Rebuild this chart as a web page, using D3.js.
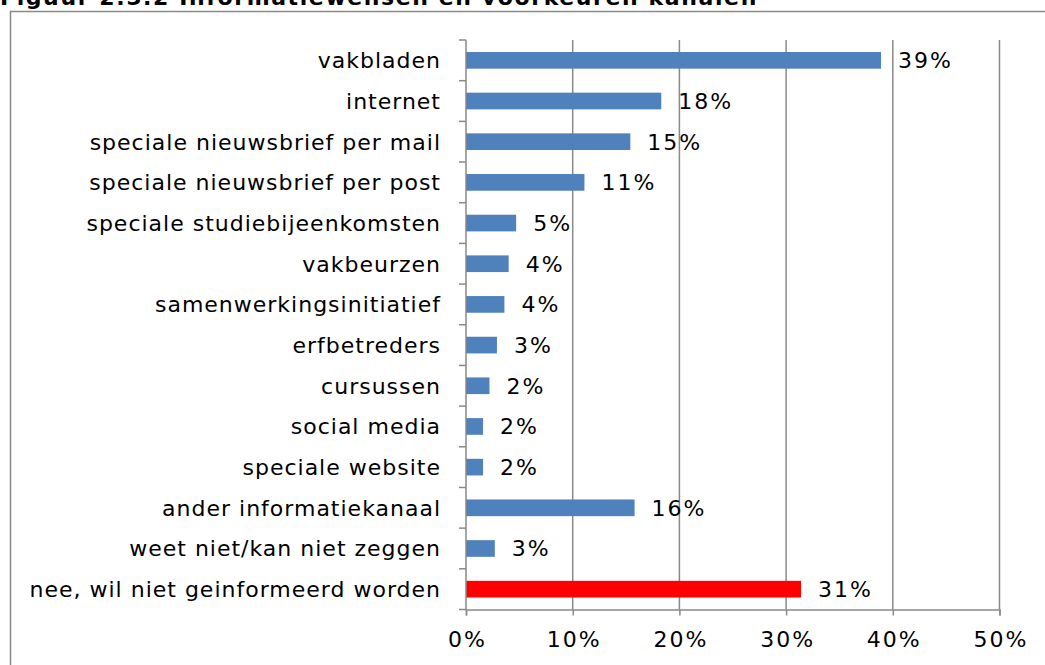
<!DOCTYPE html>
<html><head><meta charset="utf-8">
<script src="https://cdn.jsdelivr.net/npm/d3@7"></script>
<style>body{margin:0;background:#fff}svg{display:block}</style>
</head><body>
<svg id="c" width="1045" height="665"></svg>
<script>
const title = "Figuur 2.5.2 Informatiewensen en voorkeuren kanalen";
const categories = ["vakbladen","internet","speciale nieuwsbrief per mail","speciale nieuwsbrief per post","speciale studiebijeenkomsten","vakbeurzen","samenwerkingsinitiatief","erfbetreders","cursussen","social media","speciale website","ander informatiekanaal","weet niet/kan niet zeggen","nee, wil niet geinformeerd worden"];
const values = [38.9,18.3,15.4,11.1,4.7,4.0,3.6,2.9,2.2,1.6,1.6,15.8,2.7,31.4];
const labels = ["39%","18%","15%","11%","5%","4%","4%","3%","2%","2%","2%","16%","3%","31%"];
const xTicks = [0,10,20,30,40,50];
const colors = ["#4F81BD","#4F81BD","#4F81BD","#4F81BD","#4F81BD","#4F81BD","#4F81BD","#4F81BD","#4F81BD","#4F81BD","#4F81BD","#4F81BD","#4F81BD","#FF0000"];

const svg = d3.select("#c");
const font = "'DejaVu Sans', Verdana, sans-serif";
const grey = "#898989";
const plotTop = 40, plotBottom = 609.5;

// frame
svg.append("path").attr("d","M10.5,1000 V11.5 H1100").attr("fill","none").attr("stroke",grey).attr("stroke-width",1.5);
svg.append("text").attr("x",0).attr("y",5).attr("font-family",font).attr("font-weight","bold")
  .attr("font-size",22).attr("letter-spacing","1.6px").attr("fill","#000").text(title);

const x = d3.scaleLinear().domain([0,50]).range([466,999.5]);
const y = d3.scaleBand().domain(categories).range([plotTop,plotBottom]).paddingInner(0.59).paddingOuter(0.295);

// gridlines
svg.append("g").selectAll("line").data(xTicks.slice(1)).join("line")
  .attr("x1",d=>x(d)).attr("x2",d=>x(d)).attr("y1",plotTop).attr("y2",plotBottom)
  .attr("stroke",grey).attr("stroke-width",1.5);

// bars
svg.append("g").selectAll("rect").data(values).join("rect")
  .attr("x",x(0)).attr("y",(d,i)=>y(categories[i]))
  .attr("width",d=>x(d)-x(0)).attr("height",y.bandwidth())
  .attr("fill",(d,i)=>colors[i]);

// value labels
svg.append("g").selectAll("text").data(values).join("text")
  .attr("x",d=>x(d)+17).attr("y",(d,i)=>y(categories[i])+y.bandwidth()/2)
  .attr("dy","0.36em").attr("font-family",font).attr("font-size",22).attr("letter-spacing","2px").attr("fill","#000")
  .text((d,i)=>labels[i]);

// x axis
const xa = svg.append("g").attr("transform",`translate(0,${plotBottom})`)
  .call(d3.axisBottom(x).tickValues(xTicks).tickFormat(d=>d+"%").tickSize(6).tickPadding(16));
xa.select(".domain").attr("stroke",grey).attr("stroke-width",1.5);
xa.selectAll(".tick line").attr("stroke",grey).attr("stroke-width",1.5);
xa.selectAll("text").attr("font-family",font).attr("font-size",22).attr("letter-spacing","2px").attr("dx","1px").attr("fill","#000");

// y axis
const n = categories.length;
const boundaries = d3.range(n+1).map(i=>plotTop+i*((plotBottom-plotTop)/n));
svg.append("line").attr("x1",466).attr("x2",466).attr("y1",plotTop).attr("y2",plotBottom).attr("stroke",grey).attr("stroke-width",1.5);
svg.append("g").selectAll("line").data(boundaries).join("line")
  .attr("x1",459).attr("x2",466).attr("y1",d=>d).attr("y2",d=>d)
  .attr("stroke",grey).attr("stroke-width",1.5);
svg.append("g").selectAll("text").data(categories).join("text")
  .attr("x",441).attr("y",d=>y(d)+y.bandwidth()/2).attr("dy","0.36em")
  .attr("text-anchor","end").attr("font-family",font).attr("font-size",22).attr("letter-spacing","1px").attr("fill","#000")
  .text(d=>d);
</script>
</body></html>
